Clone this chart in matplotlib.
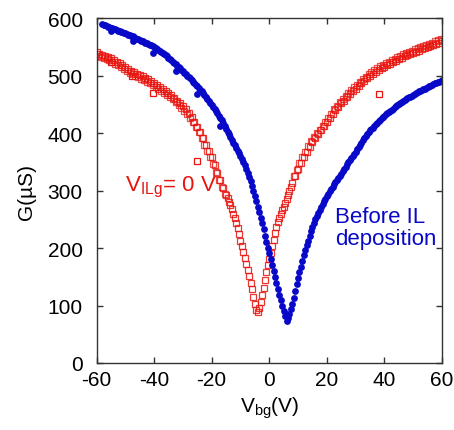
import numpy as np
import matplotlib
matplotlib.use("Agg")
import matplotlib.pyplot as plt

plt.rcParams.update({
    "font.family": ["Liberation Sans", "DejaVu Sans"],
    "mathtext.default": "regular",
    "axes.unicode_minus": False,
    "font.size": 14,
})

BLUE, RED = "#0808c8", "#e8140e"

# --- data: back-gate sweep, conductance in uS ---
# before IL deposition, forward sweep
vbg_before = [
    -58, -57, -56, -55, -54, -53, -52, -51, -50, -49, -48, -47, -46, -45, -44, -43,
    -42, -41, -40, -39, -38, -37, -36, -35, -34, -33, -32, -31, -30, -29, -28, -27,
    -26, -25, -24, -23, -22, -21, -20, -19, -18, -17, -16, -15, -14, -13,
    -12.5, -12, -11.5, -11, -10.5, -10, -9.5, -9, -8.5, -8, -7.5, -7, -6.5, -6,
    -5.5, -5, -4.5, -4, -3.5, -3, -2.5, -2, -1.5, -1, -0.5, 0, 0.5, 1, 1.5, 2,
    2.5, 3, 3.5, 4, 4.5, 5, 5.5, 6, 6.5, 7, 7.5, 8, 8.5, 9, 9.5, 10, 10.5, 11,
    11.5, 12, 12.5, 13, 13.5, 14, 14.5, 15, 15.5, 16, 17, 18, 19, 20, 21, 22, 23,
    24, 25, 26, 27, 28, 29, 30, 31, 32, 33, 34, 35, 36, 37, 38, 39, 40, 41, 42,
    43, 44, 45, 46, 47, 48, 49, 50, 51, 52, 53, 54, 55, 56, 57, 58, 59, 60,
]
g_before = [
    590, 588, 586, 584, 582, 580, 578, 576, 574, 572, 570, 568, 565, 563, 560, 558,
    556, 553, 551, 547, 544, 540, 536, 532, 527, 523, 518, 513, 508, 503, 498, 493,
    487, 482, 476, 470, 463, 457, 450, 443, 435, 427, 418, 408, 398, 389,
    384, 379, 374, 369, 365, 360, 355, 350, 344, 338, 331, 324, 317, 309,
    300, 291, 282, 272, 263, 253, 243, 233, 222, 211, 201, 191, 181, 170, 160, 150,
    139, 129, 119, 109, 100, 91, 81, 73, 78, 86, 94, 103, 114, 126, 137, 148, 158, 168,
    178, 188, 197, 205, 213, 221, 229, 236, 243, 250, 262, 272, 282, 290, 299, 307, 315,
    322, 330, 338, 346, 354, 361, 368, 376, 384, 391, 398, 405, 410, 416, 421, 426, 431, 435, 439,
    443, 447, 451, 454, 458, 461, 464, 467, 470, 473, 476, 478, 481, 483, 486, 488, 490, 492,
]
# before IL deposition, return sweep (sits on the same curve)
vbg_before_back = [
    -57.5, -56.5, -55.5, -54.5, -53.5, -52.5, -51.5, -50.5, -49.5, -48.5, -47.5, -46.5,
    -45.5, -44.5, -43.5, -42.5, -41.5, -40.5, -39.5, -38.5, -37.5, -36.5, -35.5, -34.5,
    -33.5, -32.5, -31.5, -30.5, -29.5, -28.5, -27.5, -26.5, -25.5, -24.5, -23.5, -22.5,
    -21.5, -20.5, -19.5, -18.5, -17.5, -16.5, -15.5, -14.5, -13.5,
    16.5, 17.5, 18.5, 19.5, 20.5, 21.5, 22.5, 23.5, 24.5, 25.5, 26.5, 27.5, 28.5, 29.5,
    30.5, 31.5, 32.5, 33.5, 34.5, 35.5, 36.5, 37.5, 38.5, 39.5, 40.5, 41.5, 42.5, 43.5,
    44.5, 45.5, 46.5, 47.5, 48.5, 49.5, 50.5, 51.5, 52.5, 53.5, 54.5, 55.5, 56.5, 57.5,
    58.5, 59.5,
]
g_before_back = [
    589, 587, 585, 583, 581, 579, 577, 575, 573, 571, 569, 566.5,
    564, 561.5, 559, 557, 554.5, 552, 549, 545.5, 542, 538, 534, 529.5,
    525, 520.5, 515.5, 510.5, 505.5, 500.5, 495.5, 490, 484.5, 479, 473, 466.5,
    460, 453.5, 446.5, 439, 431, 422.5, 413, 403, 393.5,
    256, 267, 277, 286, 294.5, 303, 311, 318.5, 326, 334, 342, 350, 357.5, 364.5,
    372, 380, 387.5, 394.5, 401.5, 407.5, 413, 418.5, 423.5, 428.5, 433, 437, 441, 445,
    449, 452.5, 456, 459.5, 462.5, 465.5, 468.5, 471.5, 474.5, 477, 479.5, 482, 484.5, 487,
    489, 491,
]
# sparse points that sit off the blue curve
vbg_before_extra = [-55.1, -47.4, -40.3, -32.4, -25.0, -17.1]
g_before_extra = [579, 561, 540, 509, 469, 412]

# V_ILg = 0 V, forward sweep
vbg_ilg0 = [
    -60, -59, -58, -57, -56, -55, -54, -53, -52, -51, -50, -49, -48, -47, -46, -45,
    -44, -43, -42, -41, -40, -39, -38, -37, -36, -35, -34, -33, -32, -31, -30, -29,
    -28, -27, -26, -25, -24, -23, -22, -21, -20, -19, -18, -17, -16, -15,
    -14.5, -14, -13.5, -13, -12.5, -12, -11.5, -11, -10.5, -10, -9.5, -9, -8.5, -8,
    -7.5, -7, -6.5, -6, -5.5, -5, -4.5, -4, -3.5, -3, -2.5, -2, -1.5, -1, -0.5, 0,
    0.5, 1, 1.5, 2, 2.5, 3, 3.5, 4, 4.5, 5, 5.5, 6, 6.5, 7, 7.5, 8,
    9, 10, 11, 12, 13, 14, 15, 16, 17, 18, 19, 20, 21, 22, 23, 24, 25, 26, 27, 28,
    29, 30, 31, 32, 33, 34, 35, 36, 37, 38, 39, 40, 41, 42, 43, 44, 45, 46, 47, 48,
    49, 50, 51, 52, 53, 54, 55, 56, 57, 58, 59, 60,
]
g_ilg0 = [
    541, 539, 537, 535, 533, 531, 528, 525, 522, 519, 516, 512, 509, 506, 504, 501,
    499, 496, 494, 491, 488, 485, 481, 478, 474, 471, 467, 462, 457, 452, 447, 442,
    436, 429, 420, 411, 402, 391, 380, 370, 358, 345, 331, 318, 305, 293,
    287, 281, 275, 268, 260, 252, 244, 235, 224, 213, 203, 193, 183, 172,
    162, 151, 140, 129, 115, 102, 93, 88, 95, 106, 118, 131, 145, 158, 170, 181,
    192, 203, 215, 227, 237, 246, 253, 260, 266, 272, 278, 285, 293, 300, 307, 314,
    326, 337, 348, 358, 368, 377, 385, 392, 398, 405, 412, 419, 426, 433, 440, 446, 452, 457, 463, 468,
    473, 478, 482, 487, 491, 496, 500, 503, 507, 510, 513, 516, 519, 521, 524, 526, 529, 531, 534, 536,
    538, 540, 542, 544, 546, 548, 550, 552, 554, 556, 558, 560,
]
# V_ILg = 0 V, return sweep (slightly shifted to negative Vbg)
vbg_ilg0_back = [
    -59.5, -58.5, -57.5, -56.5, -55.5, -54.5, -53.5, -52.5, -51.5, -50.5, -49.5, -48.5,
    -47.5, -46.5, -45.5, -44.5, -43.5, -42.5, -41.5, -40.5, -39.5, -38.5, -37.5, -36.5,
    -35.5, -34.5, -33.5, -32.5, -31.5, -30.5, -29.5, -28.5, -27.5, -26.5, -25.5, -24.5,
    -23.5, -22.5, -21.5, -20.5, -19.5, -18.5, -17.5, -16.5, -15.5,
    8.5, 9.5, 10.5, 11.5, 12.5, 13.5, 14.5, 15.5, 16.5, 17.5, 18.5, 19.5, 20.5, 21.5,
    22.5, 23.5, 24.5, 25.5, 26.5, 27.5, 28.5, 29.5, 30.5, 31.5, 32.5, 33.5, 34.5, 35.5,
    36.5, 37.5, 38.5, 39.5, 40.5, 41.5, 42.5, 43.5, 44.5, 45.5, 46.5, 47.5, 48.5, 49.5,
    50.5, 51.5, 52.5, 53.5, 54.5, 55.5, 56.5, 57.5, 58.5, 59.5,
]
g_ilg0_back = [
    535, 533, 531, 529, 527, 524.5, 521.5, 518.5, 515.5, 512.5, 509, 505.5,
    502.5, 500, 497.5, 495, 492.5, 490, 487.5, 484.5, 481.5, 478, 474.5, 471,
    467.5, 464, 459.5, 454.5, 449.5, 444.5, 439.5, 434, 427.5, 419.5, 410.5, 401.5,
    391.5, 380.5, 370, 359, 346.5, 333, 319.5, 306.5, 294,
    325, 336.5, 347.5, 358, 368, 377.5, 386, 393.5, 400, 406.5, 413.5, 420.5, 427.5, 434.5,
    441.5, 448, 454, 459.5, 465, 470.5, 475.5, 480.5, 485, 489.5, 494, 498.5, 503, 506.5,
    510, 513.5, 516.5, 519.5, 522.5, 525, 527.5, 530, 532.5, 535, 537.5, 540, 542, 544,
    546, 548, 550, 552, 554, 556, 558, 560, 562, 564,
]
vbg_ilg0_extra = [-55.1, -47.8, -40.3, -25.2, 38.1]
g_ilg0_extra = [524, 499, 470, 352, 469]

fig = plt.figure(figsize=(4.54, 4.31), dpi=100)
ax = fig.add_axes([0.2126, 0.1555, 0.7610, 0.7993])

sq = dict(ls="none", marker="s", ms=4.6, mfc="none", mec=RED, mew=0.9)
ax.plot(vbg_ilg0_back, g_ilg0_back, alpha=0.75, **sq)
ax.plot(vbg_ilg0, g_ilg0, alpha=0.85, **sq)
ax.plot(vbg_ilg0_extra, g_ilg0_extra, **sq)

dot = dict(ls="none", marker="o", ms=4.9, color=BLUE, mew=0)
ax.plot(vbg_before_back, g_before_back, **dot)
ax.plot(vbg_before, g_before, **dot)
ax.plot(vbg_before_extra, g_before_extra, **dot)

ax.set_xlim(-60, 60)
ax.set_ylim(0, 600)
ax.set_xticks(np.arange(-60, 61, 20))
ax.set_yticks(np.arange(0, 601, 100))
ax.tick_params(direction="in", top=True, right=True, length=4.5, width=1,
               labelsize=15, color="#333333")
ax.tick_params(axis="x", pad=5)
ax.tick_params(axis="y", pad=10)
for s in ax.spines.values():
    s.set_color("#333333")
    s.set_linewidth(1)

ax.set_xlabel("V$_{bg}$(V)", fontsize=15, labelpad=4)
ax.set_ylabel("G(µS)", fontsize=15, labelpad=8)

ax.text(-50, 300, "V$_{ILg}$= 0 V", color=RED, fontsize=16, ha="left", va="baseline")
ax.text(23, 236, "Before IL\ndeposition", color=BLUE, fontsize=16, ha="left",
        va="center", linespacing=1.05)

fig.savefig("out.png", dpi=100)
